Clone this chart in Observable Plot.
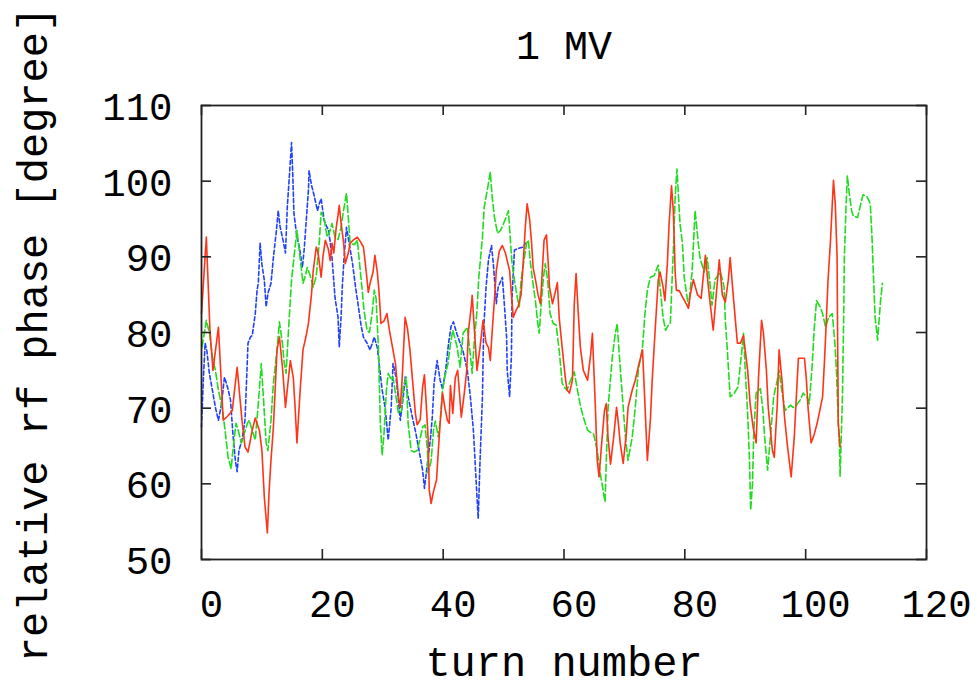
<!DOCTYPE html>
<html>
<head>
<meta charset="utf-8">
<script src="https://cdn.jsdelivr.net/npm/d3@7"></script>
<script src="https://cdn.jsdelivr.net/npm/@observablehq/plot@0.6"></script>
<style>
  html, body { margin: 0; padding: 0; background: #fff; }
  #chart { width: 977px; height: 683px; }
</style>
</head>
<body>
<div id="chart"></div>
<script>
const title = "1 MV";
const xLabel = "turn number";
const yLabel = "relative rf phase [degree]";
const xTicks = [0, 20, 40, 60, 80, 100, 120];
const yTicks = [50, 60, 70, 80, 90, 100, 110];

const redT = [0.0,0.8,1.4,1.9,2.8,3.6,4.4,5.1,5.9,6.7,7.2,7.7,8.4,8.9,9.6,10.0,10.4,10.9,11.2,11.5,11.9,12.5,12.9,13.4,13.9,14.4,14.7,15.2,15.5,15.8,16.3,16.8,17.3,17.7,18.2,18.5,19.0,19.3,19.8,20.1,20.5,21.0,21.3,21.6,21.9,22.3,22.6,22.8,23.1,23.5,23.8,24.3,24.6,25.1,25.8,26.3,26.8,27.3,27.6,27.9,28.4,28.7,29.1,29.4,29.7,30.2,30.7,31.1,31.6,32.1,32.6,32.9,33.2,33.7,34.1,34.5,34.9,35.4,35.7,36.2,36.6,36.9,37.2,37.5,37.7,38.0,38.4,38.9,39.2,39.5,39.9,40.3,40.7,41.0,41.2,41.6,42.0,42.4,42.7,43.0,43.5,43.9,44.2,44.7,44.8,45.2,45.6,46.1,46.6,47.1,47.5,47.8,48.1,48.5,48.8,49.3,49.8,50.3,50.6,51.0,51.3,51.6,52.1,52.4,52.9,53.3,53.6,53.9,54.3,54.6,54.9,55.3,55.7,56.1,56.4,56.7,57.1,57.4,57.6,58.1,58.6,58.9,59.2,59.7,60.2,60.5,60.9,61.4,61.7,62.0,62.4,62.7,63.2,63.9,64.4,64.7,65.2,65.5,65.8,66.2,66.7,67.0,67.3,67.7,68.2,68.7,69.0,69.3,69.8,70.3,70.6,71.3,71.8,72.3,73.0,73.4,73.8,74.3,74.6,75.1,75.6,75.9,76.4,76.7,77.1,77.4,77.8,78.1,78.4,78.6,79.1,79.6,80.1,80.6,80.9,81.4,82.1,82.7,83.4,83.9,84.2,84.7,85.2,85.7,86.2,86.7,87.2,87.5,88.0,88.7,89.2,89.7,90.4,90.8,91.3,91.8,92.2,92.7,93.0,93.5,93.8,94.5,94.8,95.3,95.6,96.1,96.5,97.0,97.6,98.1,98.6,98.8,99.8,100.1,100.4,100.9,101.4,101.9,102.8,103.1,103.4,103.7,104.1,104.6,104.9,105.2,105.3,105.4,105.7];
const redV = [82.5,92.6,80.3,75.0,80.7,68.4,69.0,69.7,75.4,68.4,64.9,64.2,67.1,68.7,67.0,64.4,58.2,53.5,59.2,63.1,67.5,77.7,79.4,75.4,70.1,74.0,76.3,74.0,70.0,65.4,72.0,77.7,79.5,81.2,85.0,88.2,91.3,90.5,87.3,90.0,92.2,91.0,89.5,91.8,90.5,93.9,95.5,96.8,94.5,92.0,89.1,90.5,91.8,92.2,92.6,92.0,91.3,87.8,85.3,86.5,88.0,90.2,88.0,85.2,81.2,81.5,82.5,80.3,78.1,75.9,71.5,70.1,73.7,82.0,80.5,77.7,74.0,69.3,67.8,68.5,72.8,74.4,70.5,66.2,59.2,57.4,59.0,60.5,64.4,68.0,72.0,70.0,68.4,68.0,73.0,69.3,74.0,75.0,72.0,68.8,72.0,75.0,80.3,83.8,84.9,80.0,75.0,78.0,81.6,78.6,78.0,76.3,80.0,84.5,88.2,90.8,91.5,90.5,89.5,88.2,85.0,82.0,83.0,83.4,85.0,89.9,94.0,97.0,95.0,92.2,88.5,86.9,85.0,83.8,88.0,92.2,92.9,89.0,86.0,83.8,85.5,86.6,82.0,78.0,74.1,72.4,72.0,73.7,83.8,87.8,82.0,78.1,75.0,73.7,77.0,79.9,70.0,63.1,60.9,65.0,69.7,70.6,66.0,62.6,66.0,70.1,68.0,65.4,62.7,66.5,70.1,72.4,73.7,75.5,77.7,70.5,63.1,68.5,73.7,80.5,86.9,88.0,86.0,84.2,89.0,94.4,99.4,96.0,88.0,85.6,85.5,84.7,84.0,83.2,85.0,87.0,85.0,84.5,90.2,86.0,83.8,80.3,85.0,89.6,85.0,84.0,87.0,89.9,85.0,78.6,78.6,79.6,75.0,70.6,67.5,65.4,74.1,81.6,80.0,75.0,70.1,64.4,63.5,70.5,77.7,73.5,68.8,64.9,60.9,66.0,73.7,76.6,76.6,74.0,70.0,65.4,66.5,68.0,71.5,76.0,81.2,86.9,92.0,100.1,97.0,90.0,78.1,68.0,64.9];

const greenT = [0.1,0.8,1.3,1.8,2.3,2.8,3.4,3.9,4.4,4.9,5.2,5.7,6.1,6.6,6.9,7.6,7.9,8.4,8.9,9.4,9.9,10.2,10.7,11.0,11.5,11.9,12.5,12.9,13.4,13.7,14.0,14.4,14.9,15.3,15.8,16.3,16.8,17.2,17.5,18.0,18.5,19.0,19.5,19.8,20.3,20.8,21.3,21.6,22.1,22.6,23.1,23.5,24.0,24.3,24.6,25.3,25.8,26.1,26.6,26.9,27.4,27.8,28.3,28.6,28.9,29.3,29.6,29.9,30.2,30.6,30.9,31.4,31.7,32.1,32.6,33.1,33.4,33.9,34.2,34.7,35.2,35.7,36.2,36.6,37.0,37.4,37.5,38.0,38.4,38.7,39.2,39.5,39.9,40.3,40.8,41.2,41.6,42.3,42.8,43.3,44.0,44.5,44.8,45.2,45.6,45.9,46.5,46.8,47.3,47.8,48.1,48.5,49.0,49.5,50.0,50.5,50.8,51.1,51.4,51.8,52.3,52.6,52.9,53.3,53.8,54.1,54.4,54.8,55.3,55.6,55.9,56.2,56.6,56.9,57.3,57.7,58.2,58.7,59.2,59.7,60.2,60.5,61.0,61.7,62.2,62.7,63.2,63.9,64.4,64.9,65.5,66.0,66.5,66.8,67.0,67.3,68.0,68.5,68.8,69.3,69.8,70.2,70.6,71.3,71.8,72.3,73.0,73.4,73.8,74.3,74.9,75.6,75.9,76.4,76.8,77.3,77.6,78.1,78.4,78.7,79.2,79.6,79.9,80.6,81.2,81.7,82.2,82.5,83.2,83.7,84.1,84.5,85.0,85.9,86.5,86.7,87.0,87.5,88.2,88.8,89.5,89.7,90.0,90.4,90.7,90.9,91.2,91.4,91.8,92.5,92.9,93.2,93.7,94.2,94.7,95.3,95.6,96.1,96.6,97.5,97.9,98.4,99.1,99.6,100.3,100.6,101.1,101.4,101.8,102.4,102.8,103.3,103.8,104.4,104.8,105.1,105.4,105.6,105.7,106.1,106.3,106.4,106.7,106.9,107.2,107.6,107.9,108.6,109.0,109.5,110.2,110.7,111.0,111.2,111.5,111.9,112.4,112.7];
const greenV = [78.1,81.6,80.0,76.8,75.0,72.4,70.1,67.1,63.5,62.0,64.4,68.0,67.0,65.4,66.2,68.0,68.4,67.0,65.8,70.6,75.9,72.0,65.4,64.4,68.4,73.3,77.7,81.4,78.5,75.9,74.6,80.3,86.9,89.9,93.5,90.0,86.5,87.5,88.6,87.5,86.0,87.5,92.0,95.9,95.0,92.6,93.5,94.4,92.6,92.3,93.9,96.1,98.4,95.2,91.8,91.6,92.2,89.6,85.6,82.9,80.3,80.0,82.9,85.6,84.5,77.7,68.0,63.8,66.5,72.4,74.6,73.8,74.1,72.0,69.3,69.6,72.8,74.1,68.0,64.4,64.2,64.4,66.0,67.5,67.8,64.4,61.4,63.0,67.1,68.3,66.2,68.3,72.4,74.2,75.9,78.5,80.3,78.1,75.4,79.9,80.7,77.0,74.6,79.4,82.9,87.3,92.6,96.6,98.8,101.2,98.0,95.2,93.1,93.5,94.4,95.4,96.1,92.5,89.1,86.9,84.5,83.4,86.9,89.1,91.8,92.2,89.5,86.9,84.0,81.6,79.9,83.5,87.3,89.1,86.9,82.5,81.2,81.0,77.7,73.3,72.6,72.4,73.5,74.8,72.5,70.4,68.8,67.1,66.8,66.6,64.4,61.4,59.0,57.6,63.0,70.1,76.8,79.9,81.2,75.4,70.1,65.8,63.1,66.2,70.1,75.0,78.1,82.5,85.6,87.3,87.5,88.9,86.0,82.0,80.3,81.0,81.2,90.9,98.0,101.6,94.4,91.8,87.3,83.4,88.0,96.1,92.0,89.9,88.0,89.9,87.0,83.6,87.0,88.0,86.0,81.6,78.1,71.5,72.0,72.8,78.1,79.9,75.0,69.3,63.1,56.5,60.0,66.6,72.0,72.6,70.0,66.2,61.8,66.5,71.5,73.7,75.0,72.0,69.7,70.4,70.1,70.3,71.1,72.0,71.3,70.6,75.9,80.3,84.2,83.4,82.5,80.7,82.0,82.5,79.0,75.0,68.0,64.9,61.0,72.0,82.5,89.9,97.0,100.7,98.5,96.1,95.4,95.2,96.6,98.2,97.9,97.0,92.2,87.8,82.0,79.0,84.2,86.5];

const blueT = [0.0,0.3,0.6,0.9,1.3,1.8,2.3,2.8,3.3,3.8,4.3,4.8,5.2,5.6,5.9,6.2,6.7,7.2,7.7,8.1,8.4,8.9,9.2,9.4,9.7,10.0,10.4,10.7,11.0,11.5,11.9,12.4,12.7,13.0,13.5,13.9,14.2,14.5,14.9,15.1,15.3,15.8,16.2,16.7,17.0,17.3,17.7,17.8,18.2,18.7,19.2,19.5,19.8,20.3,21.0,21.3,21.6,22.1,22.6,22.8,23.1,23.3,23.6,24.0,24.5,25.0,25.5,25.9,26.4,26.8,27.4,27.9,28.6,29.1,29.4,29.9,30.4,30.7,30.9,31.4,31.7,32.2,32.6,32.9,33.4,33.7,34.2,34.9,35.4,35.9,36.6,36.9,37.4,37.9,38.2,38.5,39.0,39.5,39.9,40.4,40.9,41.3,41.7,42.2,42.8,43.3,44.0,44.5,45.0,45.3,45.6,45.8,46.1,46.5,46.7,47.1,47.5,48.0,48.3,48.6,48.8,49.1,49.8,50.1,50.5,50.6,51.0,51.3,51.4,51.8,52.4,53.3,53.6];
const blueV = [67.5,73.7,78.6,77.5,74.6,72.4,70.1,68.4,70.5,74.1,72.8,71.1,66.6,63.1,61.6,64.4,65.8,68.4,78.6,79.4,79.6,82.5,85.6,86.5,91.8,89.0,86.9,83.4,85.2,86.5,89.9,93.5,96.1,94.0,92.2,90.5,96.6,100.1,105.1,101.0,95.7,92.6,91.3,88.6,91.0,94.4,98.8,101.4,99.5,97.9,96.1,97.0,97.7,94.8,93.5,92.0,89.9,84.6,82.0,78.1,82.0,86.0,89.9,93.9,91.5,89.1,86.0,83.8,81.0,79.4,78.6,77.7,79.4,78.0,75.9,72.4,70.0,67.5,65.8,70.1,75.9,74.1,71.0,68.4,71.5,74.1,71.5,68.8,67.0,64.9,61.8,59.4,62.7,66.0,68.8,73.3,76.3,73.7,72.5,75.0,78.6,80.8,81.4,80.0,78.6,77.5,75.0,71.5,67.1,62.7,58.2,55.4,63.0,71.5,80.3,86.0,89.6,91.5,89.1,86.0,83.8,86.0,87.3,84.0,79.4,75.0,71.5,77.0,84.6,90.9,91.1,91.3,91.8];

const red = redT.map((t, i) => ({t, v: redV[i]}));
const green = greenT.map((t, i) => ({t, v: greenV[i]}));
const blue = blueT.map((t, i) => ({t, v: blueV[i]}));

const W = 977, H = 683;
const mL = 201, mR = 51, mT = 105, mB = 124;
const plotW = W - mL - mR, plotH = H - mT - mB;
const tickLen = 10;
const font = "'Liberation Mono', 'DejaVu Sans Mono', monospace";

const chart = Plot.plot({
  width: W, height: H,
  marginLeft: mL, marginRight: mR, marginTop: mT, marginBottom: mB,
  style: {fontFamily: font, fontSize: "40px", color: "#000", background: "#fff", overflow: "visible"},
  x: {domain: [0, 120]},
  y: {domain: [50, 110]},
  marks: [
    Plot.line(blue, {x: "t", y: "v", stroke: "#2040ff", strokeWidth: 1.6, strokeDasharray: "4,2.5"}),
    Plot.line(green, {x: "t", y: "v", stroke: "#1fdc1f", strokeWidth: 1.6, strokeDasharray: "7,3"}),
    Plot.line(red, {x: "t", y: "v", stroke: "#ff3318", strokeWidth: 1.6}),
    Plot.tickX(xTicks, {x: d => d, insetTop: plotH - tickLen, stroke: "#222", strokeWidth: 1.6}),
    Plot.tickX(xTicks, {x: d => d, insetBottom: plotH - tickLen, stroke: "#222", strokeWidth: 1.6}),
    Plot.tickY(yTicks, {y: d => d, insetRight: plotW - tickLen, stroke: "#222", strokeWidth: 1.6}),
    Plot.tickY(yTicks, {y: d => d, insetLeft: plotW - tickLen, stroke: "#222", strokeWidth: 1.6}),
    Plot.axisX({ticks: xTicks, tickSize: 0, tickPadding: 30, dx: 10, fontSize: 39, tickFormat: d => String(d), label: null}),
    Plot.axisY({ticks: yTicks, tickSize: 0, tickPadding: 29, dy: 2, fontSize: 39, tickFormat: d => String(d), label: null}),
    Plot.frame({stroke: "#222", strokeWidth: 1.8}),
    Plot.text([title], {frameAnchor: "top", dy: -47, lineAnchor: "bottom", fontSize: 40, text: d => d}),
    Plot.text([xLabel], {frameAnchor: "bottom", dy: 116, lineAnchor: "bottom", fontSize: 42, text: d => d}),
    Plot.text([yLabel], {frameAnchor: "left", dx: -168, dy: 2, rotate: -90, textAnchor: "middle", lineAnchor: "middle", fontSize: 42, text: d => d})
  ]
});
document.getElementById("chart").appendChild(chart);
</script>
</body>
</html>
